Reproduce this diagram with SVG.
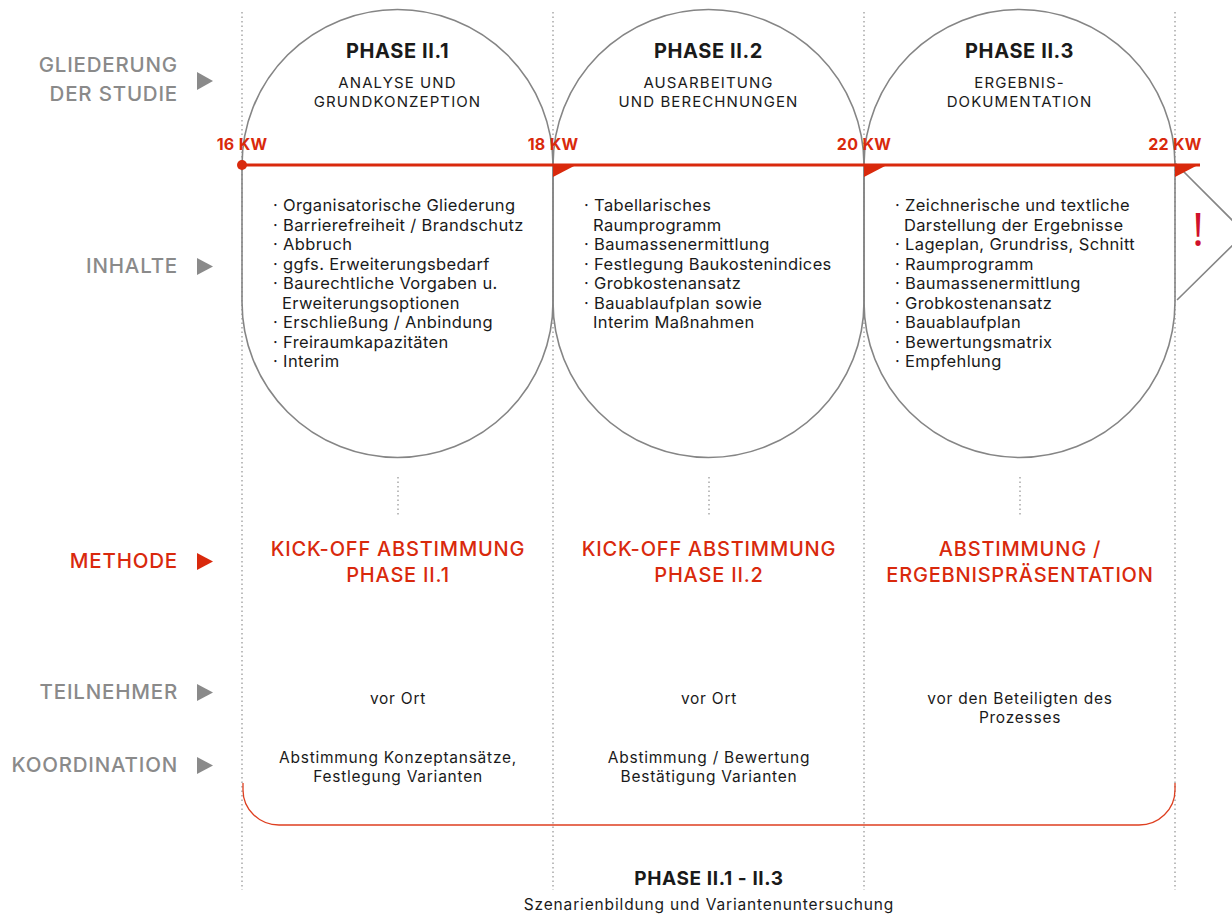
<svg xmlns="http://www.w3.org/2000/svg" width="1232" height="915" viewBox="0 0 1232 915">
<style>
text{font-family:Inter,"Liberation Sans",sans-serif;}
.lbl{font-size:20.5px;font-weight:500;fill:#8a8a8a;text-anchor:end;letter-spacing:0.8px;}
.lblr{font-size:20.5px;font-weight:500;fill:#d9290c;text-anchor:end;letter-spacing:0.8px;}
.tri{fill:#8a8a8a;}
.trir{fill:#d9290c;}
.ttl{font-size:20px;font-weight:700;fill:#1a1a1a;text-anchor:middle;letter-spacing:0.6px;}
.sub{font-size:15px;fill:#1a1a1a;text-anchor:middle;letter-spacing:1.1px;}
.kw{font-size:16px;font-weight:700;fill:#d9290c;text-anchor:middle;letter-spacing:0.3px;}
.li{font-size:16.5px;fill:#1a1a1a;letter-spacing:0.35px;}
.met{font-size:20px;font-weight:500;fill:#d9290c;text-anchor:middle;letter-spacing:0.8px;}
.sm{font-size:15.5px;fill:#1a1a1a;text-anchor:middle;letter-spacing:0.75px;}
.shape{fill:none;stroke:#858585;stroke-width:1.6;}
.dot{stroke:#9a9a9a;stroke-width:1.3;stroke-dasharray:1.5 3;fill:none;}
.flag{fill:#d9290c;}
</style>

<g id="gridlines">
<line class="dot" x1="242" y1="12" x2="242" y2="890"/>
<line class="dot" x1="553" y1="12" x2="553" y2="890"/>
<line class="dot" x1="864" y1="12" x2="864" y2="890"/>
<line class="dot" x1="1175" y1="12" x2="1175" y2="890"/>
</g>

<g id="row-labels">
<text class="lbl" x="178" y="72">GLIEDERUNG</text>
<text class="lbl" x="178" y="101">DER STUDIE</text>
<polygon class="tri" points="197,72 213,81 197,90"/>
<text class="lbl" x="178" y="273">INHALTE</text>
<polygon class="tri" points="197,258 213,266.5 197,275"/>
<text class="lblr" x="178" y="568">METHODE</text>
<polygon class="trir" points="197,553 213,561.5 197,570"/>
<text class="lbl" x="178" y="699">TEILNEHMER</text>
<polygon class="tri" points="197,684 213,692.5 197,701"/>
<text class="lbl" x="178" y="772">KOORDINATION</text>
<polygon class="tri" points="197,757 213,765.5 197,774"/>
</g>

<g id="phase1">
<path class="shape" d="M242,165 A155.5,155.5 0 0 1 553,165 V302 A155.5,155.5 0 0 1 242,302 Z"/>
<text class="ttl" x="397.5" y="58">PHASE II.1</text>
<text class="sub" x="397.5" y="88">ANALYSE UND</text>
<text class="sub" x="397.5" y="107">GRUNDKONZEPTION</text>
<g class="li">
<text x="273" y="211">· Organisatorische Gliederung</text>
<text x="273" y="230.5">· Barrierefreiheit / Brandschutz</text>
<text x="273" y="250">· Abbruch</text>
<text x="273" y="269.5">· ggfs. Erweiterungsbedarf</text>
<text x="273" y="289">· Baurechtliche Vorgaben u.</text>
<text x="282" y="308.5">Erweiterungsoptionen</text>
<text x="273" y="328">· Erschließung / Anbindung</text>
<text x="273" y="347.5">· Freiraumkapazitäten</text>
<text x="273" y="367">· Interim</text>
</g>
</g>

<g id="phase2">
<path class="shape" d="M553,165 A155.5,155.5 0 0 1 864,165 V302 A155.5,155.5 0 0 1 553,302 Z"/>
<text class="ttl" x="708.5" y="58">PHASE II.2</text>
<text class="sub" x="708.5" y="88">AUSARBEITUNG</text>
<text class="sub" x="708.5" y="107">UND BERECHNUNGEN</text>
<g class="li">
<text x="584" y="211">· Tabellarisches</text>
<text x="593" y="230.5">Raumprogramm</text>
<text x="584" y="250">· Baumassenermittlung</text>
<text x="584" y="269.5">· Festlegung Baukostenindices</text>
<text x="584" y="289">· Grobkostenansatz</text>
<text x="584" y="308.5">· Bauablaufplan sowie</text>
<text x="593" y="328">Interim Maßnahmen</text>
</g>
</g>

<g id="phase3">
<path class="shape" d="M864,165 A155.5,155.5 0 0 1 1175,165 V302 A155.5,155.5 0 0 1 864,302 Z"/>
<text class="ttl" x="1019.5" y="58">PHASE II.3</text>
<text class="sub" x="1019.5" y="88">ERGEBNIS-</text>
<text class="sub" x="1019.5" y="107">DOKUMENTATION</text>
<g class="li">
<text x="895" y="211">· Zeichnerische und textliche</text>
<text x="904" y="230.5">Darstellung der Ergebnisse</text>
<text x="895" y="250">· Lageplan, Grundriss, Schnitt</text>
<text x="895" y="269.5">· Raumprogramm</text>
<text x="895" y="289">· Baumassenermittlung</text>
<text x="895" y="308.5">· Grobkostenansatz</text>
<text x="895" y="328">· Bauablaufplan</text>
<text x="895" y="347.5">· Bewertungsmatrix</text>
<text x="895" y="367">· Empfehlung</text>
</g>
</g>

<g id="outlook">
<polyline class="shape" points="1175,163 1245,233 1177,300"/>
<text x="1198" y="246" style="font-family:'Open Sans',sans-serif;font-size:46px;fill:#d0112b;text-anchor:middle;">!</text>
</g>

<g id="timeline">
<line x1="242" y1="165" x2="1200" y2="165" stroke="#d9290c" stroke-width="3"/>
<circle cx="242" cy="165" r="5" fill="#d9290c"/>
<polygon class="flag" points="553,165 576,165 553,177"/>
<polygon class="flag" points="864,165 887,165 864,177"/>
<polygon class="flag" points="1175,165 1198,165 1175,177"/>
<text class="kw" x="242" y="150">16 KW</text>
<text class="kw" x="553" y="150">18 KW</text>
<text class="kw" x="864" y="150">20 KW</text>
<text class="kw" x="1175" y="150">22 KW</text>
</g>

<g id="connectors">
<line class="dot" x1="398" y1="477" x2="398" y2="516"/>
<line class="dot" x1="709" y1="477" x2="709" y2="516"/>
<line class="dot" x1="1020" y1="477" x2="1020" y2="516"/>
</g>

<g id="methode">
<text class="met" x="398" y="556">KICK-OFF ABSTIMMUNG</text>
<text class="met" x="398" y="582">PHASE II.1</text>
<text class="met" x="709" y="556">KICK-OFF ABSTIMMUNG</text>
<text class="met" x="709" y="582">PHASE II.2</text>
<text class="met" x="1020" y="556">ABSTIMMUNG /</text>
<text class="met" x="1020" y="582">ERGEBNISPRÄSENTATION</text>
</g>

<g id="teilnehmer">
<text class="sm" x="398" y="704">vor Ort</text>
<text class="sm" x="709" y="704">vor Ort</text>
<text class="sm" x="1020" y="704">vor den Beteiligten des</text>
<text class="sm" x="1020" y="723">Prozesses</text>
</g>

<g id="koordination">
<text class="sm" x="398" y="763">Abstimmung Konzeptansätze,</text>
<text class="sm" x="398" y="782">Festlegung Varianten</text>
<text class="sm" x="709" y="763">Abstimmung / Bewertung</text>
<text class="sm" x="709" y="782">Bestätigung Varianten</text>
</g>

<g id="bracket">
<path d="M243,783 V790 A36,35 0 0 0 279,825 H1139 A36,35 0 0 0 1175,790 V783" fill="none" stroke="#de3f20" stroke-width="1.3"/>
<text class="ttl" x="709" y="885" style="font-size:19px;">PHASE II.1 - II.3</text>
<text class="sm" x="709" y="910" style="font-size:15.5px;letter-spacing:0.85px;">Szenarienbildung und Variantenuntersuchung</text>
</g>
</svg>
